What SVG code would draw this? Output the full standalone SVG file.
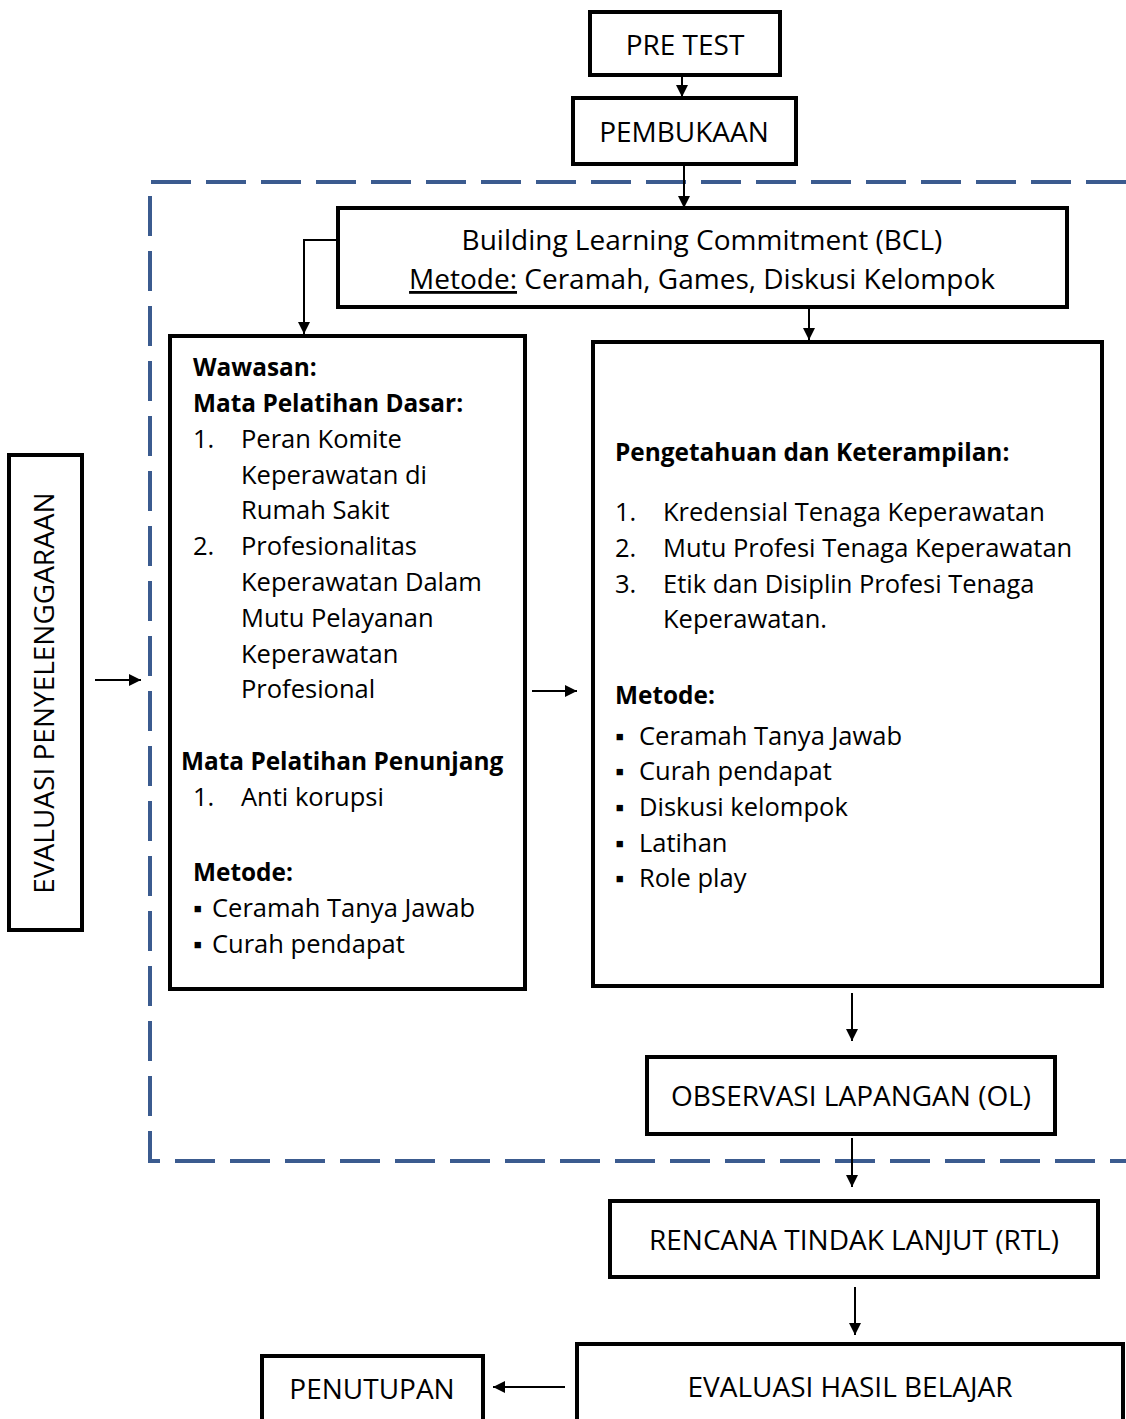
<svg xmlns="http://www.w3.org/2000/svg" width="1126" height="1419" viewBox="0 0 1126 1419">
<style>
.box{fill:#fff;stroke:#000;stroke-width:4}
.t{font-family:"Open Sans","Noto Sans","Liberation Sans",sans-serif;font-size:25.5px;fill:#000}
.L{font-size:28px}
.c{text-anchor:middle}
.b{font-weight:bold;font-size:24.4px}
.con{fill:none;stroke:#000;stroke-width:2}
.dash{fill:none;stroke:#3B5B8F;stroke-width:4;stroke-dasharray:40 15}
</style>
<defs>
<marker id="ah" markerUnits="userSpaceOnUse" markerWidth="14" markerHeight="14" refX="12" refY="7" orient="auto">
<path d="M0,1 L12,7 L0,13 Z" fill="#000"/>
</marker>
</defs>
<rect x="0" y="0" width="1126" height="1419" fill="#fff"/>
<path class="dash" d="M1126,182 L150,182 L150,1161 L1126,1161"/>
<g id="pretest"><rect class="box" x="590" y="12" width="190" height="63"/><text class="t L c" x="685" y="55">PRE TEST</text></g>
<g id="pembukaan"><rect class="box" x="573" y="98" width="223" height="66"/><text class="t L c" x="684" y="142">PEMBUKAAN</text></g>
<g id="bcl"><rect class="box" x="338" y="208" width="729" height="99"/>
<text class="t L c" x="702" y="250">Building Learning Commitment (BCL)</text>
<text class="t L c" x="702" y="289"><tspan style="text-decoration:underline">Metode:</tspan> Ceramah, Games, Diskusi Kelompok</text></g>
<g id="wawasan"><rect class="box" x="170" y="336" width="355" height="653"/>
<text class="t b" x="193" y="376">Wawasan:</text>
<text class="t b" x="193" y="412">Mata Pelatihan Dasar:</text>
<text class="t" x="193" y="448">1.</text><text class="t" x="241" y="448">Peran Komite</text>
<text class="t" x="241" y="484">Keperawatan di</text>
<text class="t" x="241" y="519">Rumah Sakit</text>
<text class="t" x="193" y="555">2.</text><text class="t" x="241" y="555">Profesionalitas</text>
<text class="t" x="241" y="591">Keperawatan Dalam</text>
<text class="t" x="241" y="627">Mutu Pelayanan</text>
<text class="t" x="241" y="663">Keperawatan</text>
<text class="t" x="241" y="698">Profesional</text>
<text class="t b" x="181" y="770">Mata Pelatihan Penunjang</text>
<text class="t" x="193" y="806">1.</text><text class="t" x="241" y="806">Anti korupsi</text>
<text class="t b" x="193" y="881">Metode:</text>
<text class="t" x="193" y="917">▪</text><text class="t" x="212" y="917">Ceramah Tanya Jawab</text>
<text class="t" x="193" y="953">▪</text><text class="t" x="212" y="953">Curah pendapat</text></g>
<g id="pengetahuan"><rect class="box" x="593" y="342" width="509" height="644"/>
<text class="t b" x="615" y="461">Pengetahuan dan Keterampilan:</text>
<text class="t" x="615" y="521">1.</text><text class="t" x="663" y="521">Kredensial Tenaga Keperawatan</text>
<text class="t" x="615" y="557">2.</text><text class="t" x="663" y="557">Mutu Profesi Tenaga Keperawatan</text>
<text class="t" x="615" y="593">3.</text><text class="t" x="663" y="593">Etik dan Disiplin Profesi Tenaga</text>
<text class="t" x="663" y="628">Keperawatan.</text>
<text class="t b" x="615" y="704">Metode:</text>
<text class="t" x="615" y="745">▪</text><text class="t" x="639" y="745">Ceramah Tanya Jawab</text>
<text class="t" x="615" y="780">▪</text><text class="t" x="639" y="780">Curah pendapat</text>
<text class="t" x="615" y="816">▪</text><text class="t" x="639" y="816">Diskusi kelompok</text>
<text class="t" x="615" y="852">▪</text><text class="t" x="639" y="852">Latihan</text>
<text class="t" x="615" y="887">▪</text><text class="t" x="639" y="887">Role play</text></g>
<g id="evaluasi-penyelenggaraan"><rect class="box" x="9" y="455" width="73" height="475"/>
<text class="t L c" transform="translate(54,693) rotate(-90)" x="0" y="0">EVALUASI PENYELENGGARAAN</text></g>
<g id="ol"><rect class="box" x="647" y="1057" width="408" height="77"/><text class="t L c" x="851" y="1106">OBSERVASI LAPANGAN (OL)</text></g>
<g id="rtl"><rect class="box" x="610" y="1201" width="488" height="76"/><text class="t L c" x="854" y="1250">RENCANA TINDAK LANJUT (RTL)</text></g>
<g id="ehb"><rect class="box" x="577" y="1344" width="546" height="90"/><text class="t L c" x="850" y="1397">EVALUASI HASIL BELAJAR</text></g>
<g id="penutupan"><rect class="box" x="262" y="1356" width="221" height="80"/><text class="t L c" x="372" y="1399">PENUTUPAN</text></g>
<g id="connectors">
<line class="con" x1="682" y1="75" x2="682" y2="97" marker-end="url(#ah)"/>
<line class="con" x1="684" y1="164" x2="684" y2="208" marker-end="url(#ah)"/>
<path class="con" d="M338,240 L304,240 L304,334" marker-end="url(#ah)"/>
<line class="con" x1="809" y1="307" x2="809" y2="340" marker-end="url(#ah)"/>
<line class="con" x1="532" y1="691" x2="577" y2="691" marker-end="url(#ah)"/>
<line class="con" x1="95" y1="680" x2="141" y2="680" marker-end="url(#ah)"/>
<line class="con" x1="852" y1="993" x2="852" y2="1041" marker-end="url(#ah)"/>
<line class="con" x1="852" y1="1138" x2="852" y2="1187" marker-end="url(#ah)"/>
<line class="con" x1="855" y1="1287" x2="855" y2="1335" marker-end="url(#ah)"/>
<line class="con" x1="565" y1="1387" x2="493" y2="1387" marker-end="url(#ah)"/>
</g>
</svg>
